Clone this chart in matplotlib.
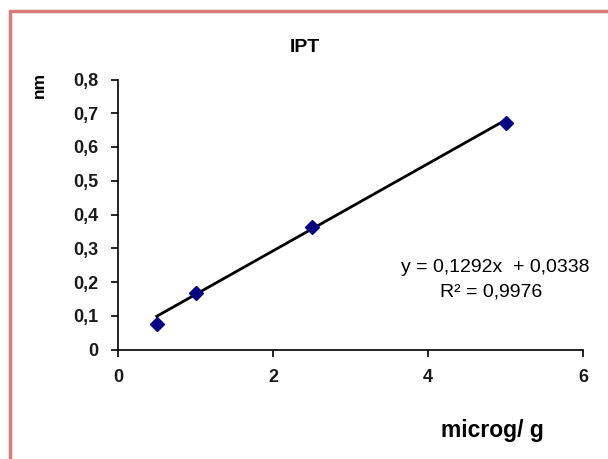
import matplotlib
matplotlib.use("Agg")
import matplotlib.pyplot as plt
from matplotlib.patches import Rectangle
import numpy as np

# Data
conc = [0.5, 1.0, 2.5, 5.0]
absorb = [0.077, 0.166, 0.362, 0.670]
slope = 0.1292
intercept = 0.0338
r2_text = "R² = 0,9976"
eq_text = "y = 0,1292x  + 0,0338"
y_ticks = [0, 0.1, 0.2, 0.3, 0.4, 0.5, 0.6, 0.7, 0.8]
y_ticklabels = ["0", "0,1", "0,2", "0,3", "0,4", "0,5", "0,6", "0,7", "0,8"]
x_ticks = [0, 2, 4, 6]
x_ticklabels = ["0", "2", "4", "6"]

plt.rcParams['font.family'] = ['Liberation Sans', 'DejaVu Sans']

fig = plt.figure(figsize=(6.08, 4.59), dpi=100)
fig.patch.set_facecolor('white')

# chart area border
fig.patches.append(Rectangle((9.5 / 608, -0.1), 1.2, 1 - 10.5 / 459 + 0.1,
                             transform=fig.transFigure, fill=False,
                             edgecolor='#d97b7b', linewidth=2.5, clip_on=False))

ax = fig.add_axes([118 / 608, 1 - 349.5 / 459, 465 / 608, 270 / 459])
ax.set_xlim(0, 6)
ax.set_ylim(0, 0.8)

xs = np.array([conc[0], conc[-1]])
ax.plot(xs, slope * xs + intercept, color='black', linewidth=2, zorder=2)
ax.plot(conc, absorb, linestyle='none', marker='D', markersize=7.5,
        color='#000080', zorder=3, clip_on=False)

for s in ['top', 'right']:
    ax.spines[s].set_visible(False)
for s in ['left', 'bottom']:
    ax.spines[s].set_linewidth(1.2)

ax.set_yticks(y_ticks)
ax.set_yticklabels(y_ticklabels)
ax.set_xticks(x_ticks)
ax.set_xticklabels(x_ticklabels)
ax.tick_params(direction='out', length=5, width=1.2, labelsize=13,
               labelcolor='#1a1a1a')
ax.tick_params(axis='x', pad=9)
ax.tick_params(axis='y', pad=9)
for lab in ax.get_xticklabels() + ax.get_yticklabels():
    lab.set_fontweight('bold')

fig.text(305 / 608, 1 - 47 / 459, "IPT", ha='center', va='center',
         fontsize=14, fontweight='bold')
fig.text(39 / 608, 1 - 85 / 459, "nm", ha='center', va='center',
         rotation=90, fontsize=12.5, fontweight='bold')
fig.text(492 / 608, 1 - 431 / 459, "microg/ g", ha='center', va='center',
         fontsize=16.5, fontweight='bold')

fig.text(495 / 608, 1 - 268 / 459, eq_text, ha='center', va='center', fontsize=14)
fig.text(491 / 608, 1 - 292 / 459, r2_text, ha='center', va='center', fontsize=14)

fig.savefig("out.png", dpi=100)
